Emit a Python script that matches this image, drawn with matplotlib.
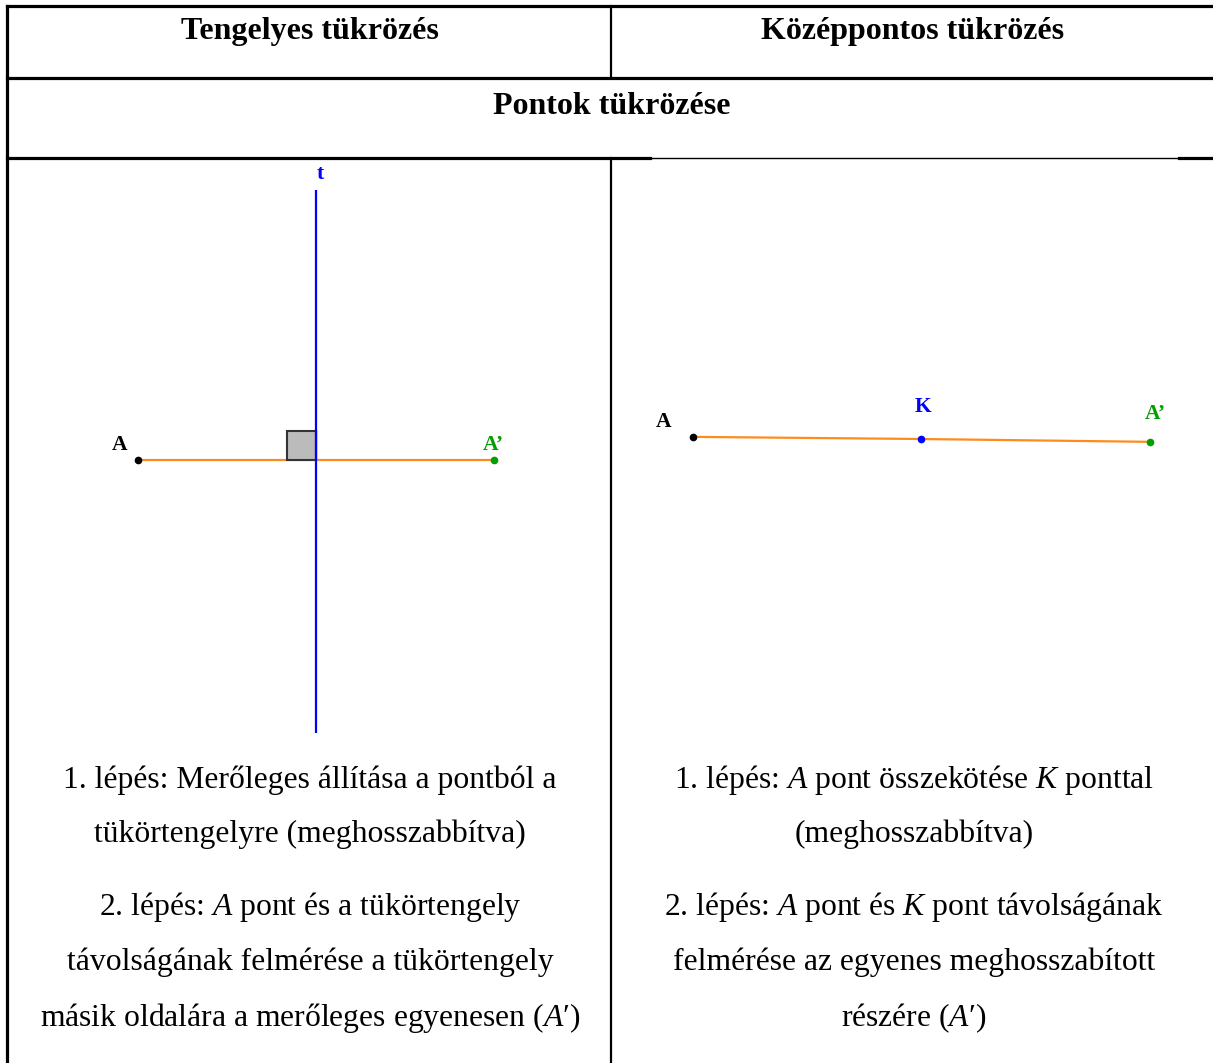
import matplotlib
matplotlib.use("Agg")
import matplotlib.pyplot as plt
from matplotlib.patches import Rectangle

plt.rcParams['font.family'] = ['Liberation Serif', 'DejaVu Serif']
plt.rcParams['mathtext.fontset'] = 'custom'
plt.rcParams['mathtext.rm'] = 'Liberation Serif'
plt.rcParams['mathtext.it'] = 'Liberation Serif:italic'

W, H = 1213, 1063

# headers and step texts
col_titles = ["Tengelyes tükrözés", "Középpontos tükrözés"]
row_title = "Pontok tükrözése"
left_steps = ["1. lépés: Merőleges állítása a pontból a",
              "tükörtengelyre (meghosszabbítva)",
              "2. lépés: $A$ pont és a tükörtengely",
              "távolságának felmérése a tükörtengely",
              "másik oldalára a merőleges egyenesen ($A$′)"]
right_steps = ["1. lépés: $A$ pont összekötése $K$ ponttal",
               "(meghosszabbítva)",
               "2. lépés: $A$ pont és $K$ pont távolságának",
               "felmérése az egyenes meghosszabított",
               "részére ($A$′)"]

# left drawing: axial reflection (units, axis t is x = 0)
axis_x = 0.0
axis_y = [-7.7, 7.6]
pt_A_left = (-5.0, 0.0)
pt_A_img_left = (5.0, 0.0)
square_side = 0.82

# right drawing: central reflection about K
pt_A_right = (-6.42, 0.06)
pt_K = (0.0, 0.0)
pt_A_img_right = (6.45, -0.08)

orange = "#FF8A1E"
blue = "#0000FF"
green = "#00A000"

fig = plt.figure(figsize=(W / 100, H / 100), dpi=100)
base = fig.add_axes([0, 0, 1, 1])
base.set_xlim(0, W)
base.set_ylim(H, 0)
base.axis("off")

# table grid
lw_thick = 2.3
base.plot([7, W], [6, 6], color="black", lw=lw_thick)
base.plot([7, 7], [6, H], color="black", lw=lw_thick)
base.plot([7, W], [78, 78], color="black", lw=lw_thick)
base.plot([7, 650], [158, 158], color="black", lw=lw_thick)
base.plot([650, 1179], [158, 158], color="black", lw=1.0)
base.plot([1179, W], [158, 158], color="black", lw=lw_thick)
base.plot([611, 611], [6, 78], color="black", lw=1.6)
base.plot([611, 611], [158, H], color="black", lw=1.6)

# text
base.text(310, 32, col_titles[0], ha="center", va="center", fontsize=23, fontweight="bold")
base.text(913, 32, col_titles[1], ha="center", va="center", fontsize=23, fontweight="bold")
base.text(612, 107, row_title, ha="center", va="center", fontsize=23, fontweight="bold")
line_y = [780, 834, 907, 962, 1018]
for s, y in zip(left_steps, line_y):
    base.text(310, y, s, ha="center", va="center", fontsize=22.8)
for s, y in zip(right_steps, line_y):
    base.text(914, y, s, ha="center", va="center", fontsize=22.8)

scale = 35.5  # px per unit


def diagram_axes(x0, x1, y0, y1, ox, oy):
    ax = fig.add_axes([x0 / W, 1 - y1 / H, (x1 - x0) / W, (y1 - y0) / H])
    ax.set_xlim((x0 - ox) / scale, (x1 - ox) / scale)
    ax.set_ylim((oy - y1) / scale, (oy - y0) / scale)
    ax.axis("off")
    return ax


lab = dict(fontsize=15.5, fontweight="bold", textcoords="offset points",
           ha="center", va="center")

# left diagram
axl = diagram_axes(10, 608, 161, 745, 316, 460)
axl.plot([axis_x, axis_x], axis_y, color=blue, lw=1.6, solid_capstyle="butt")
axl.plot([pt_A_left[0], pt_A_img_left[0]], [pt_A_left[1], pt_A_img_left[1]],
         color=orange, lw=1.6, zorder=2)
axl.add_patch(Rectangle((axis_x - square_side, 0), square_side, square_side,
                        facecolor="#BBBBBB", edgecolor="#333333", lw=1.5, zorder=3))
axl.plot([axis_x, axis_x], [0, square_side], color=blue, lw=1.6, zorder=4)
axl.plot(*pt_A_left, "o", color="black", ms=4.5, zorder=5)
axl.plot(*pt_A_img_left, "o", color=green, ms=4.5, zorder=5)
axl.annotate("A", pt_A_left, xytext=(-14, 11), color="black", **lab)
axl.annotate("A’", pt_A_img_left, xytext=(0, 11), color=green, **lab)
axl.annotate("t", (axis_x, axis_y[1]), xytext=(3, 12), color=blue, **lab)

# right diagram
axr = diagram_axes(614, W, 161, 745, 921, 439)
axr.plot([pt_A_right[0], pt_K[0], pt_A_img_right[0]],
         [pt_A_right[1], pt_K[1], pt_A_img_right[1]], color=orange, lw=1.6, zorder=2)
axr.plot(*pt_A_right, "o", color="black", ms=4.5, zorder=5)
axr.plot(*pt_K, "o", color=blue, ms=4.5, zorder=5)
axr.plot(*pt_A_img_right, "o", color=green, ms=4.5, zorder=5)
axr.annotate("A", pt_A_right, xytext=(-21, 11), color="black", **lab)
axr.annotate("K", pt_K, xytext=(1.5, 23), color=blue, **lab)
axr.annotate("A’", pt_A_img_right, xytext=(4, 20), color=green, **lab)

fig.savefig("out.png", dpi=100)
